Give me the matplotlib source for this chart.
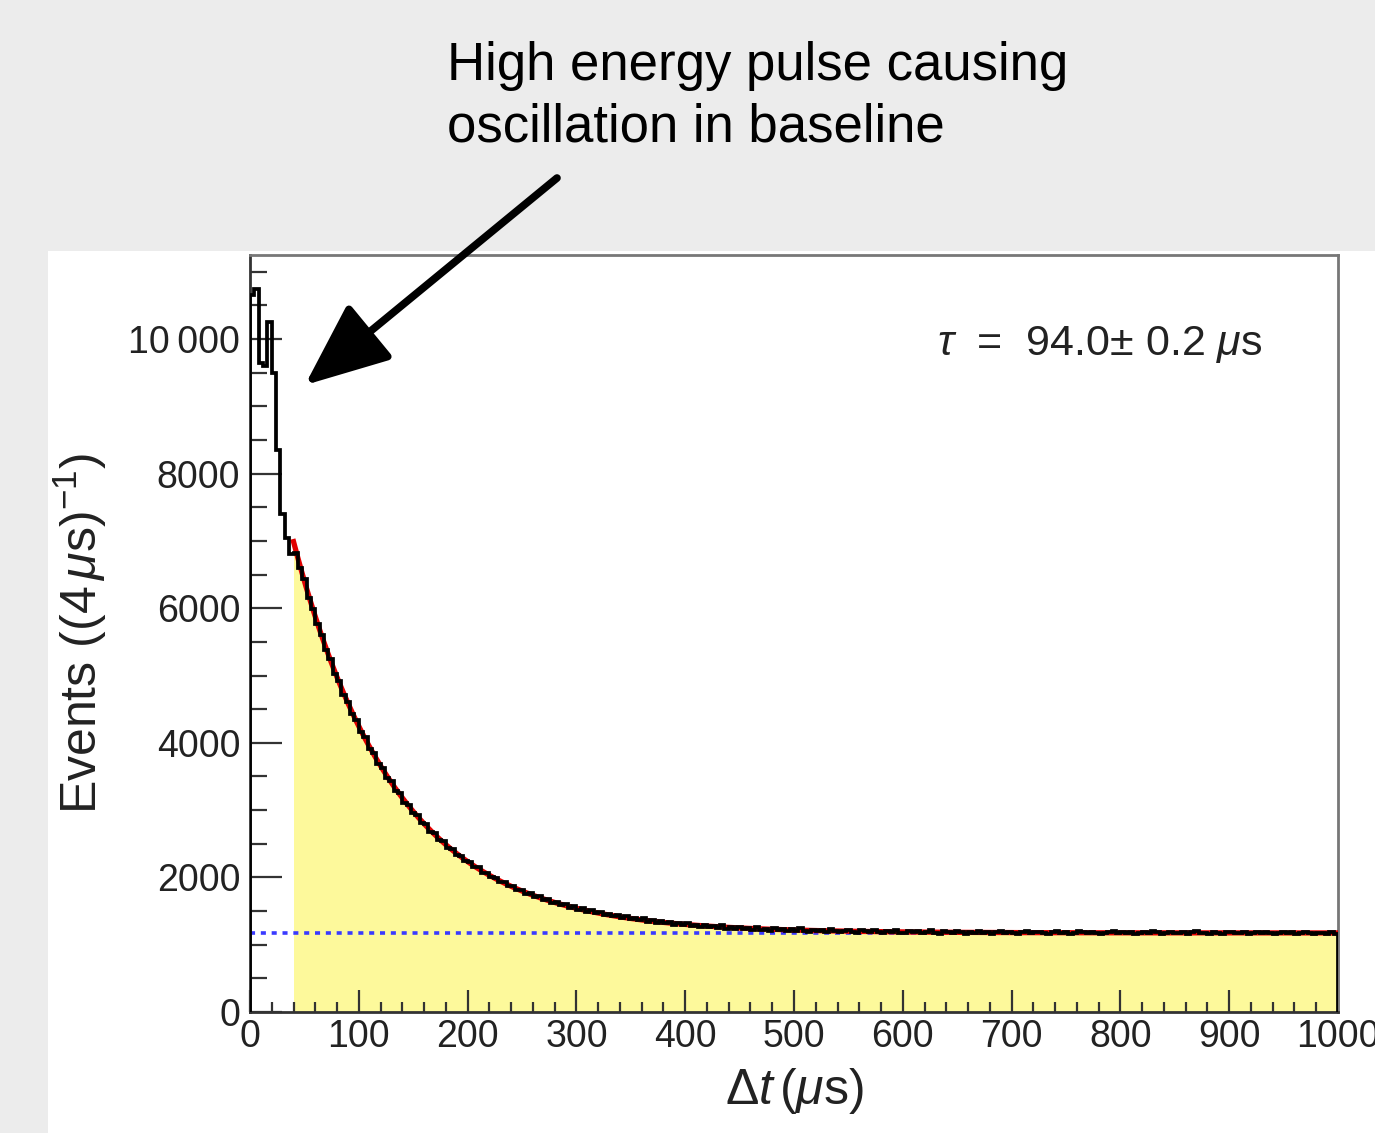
import numpy as np
import matplotlib
matplotlib.use("Agg")
import matplotlib.pyplot as plt
from matplotlib.patches import Rectangle, FancyArrowPatch
from matplotlib.transforms import IdentityTransform
from matplotlib.ticker import MultipleLocator, FuncFormatter

plt.rcParams['font.family'] = ['Liberation Sans', 'DejaVu Sans']
plt.rcParams['mathtext.fontset'] = 'custom'
plt.rcParams['mathtext.rm'] = 'Liberation Sans'
plt.rcParams['mathtext.it'] = 'Liberation Sans:italic'
plt.rcParams['mathtext.bf'] = 'Liberation Sans:bold'

# histogram: 4 us bins from 0 to 1000 us
bin_width = 4
bin_edges = np.arange(0, 1000 + bin_width, bin_width)
counts = [
    10650, 10750, 9650, 9600, 10250, 9500, 8350, 7400, 7050, 6800,
    6820, 6600, 6430, 6160, 5990, 5760, 5610, 5380, 5250, 5030,
    4920, 4710, 4610, 4430, 4340, 4160, 4080, 3910, 3850, 3690,
    3620, 3480, 3430, 3290, 3250, 3110, 3080, 2950, 2930, 2810,
    2790, 2670, 2660, 2550, 2540, 2430, 2420, 2330, 2320, 2240,
    2230, 2150, 2150, 2070, 2060, 2000, 1990, 1930, 1930, 1870,
    1870, 1810, 1810, 1760, 1770, 1710, 1720, 1660, 1680, 1620,
    1640, 1590, 1600, 1550, 1570, 1520, 1540, 1490, 1510, 1470,
    1480, 1440, 1460, 1420, 1440, 1400, 1420, 1380, 1400, 1360,
    1390, 1340, 1370, 1330, 1350, 1320, 1340, 1300, 1330, 1290,
    1320, 1280, 1300, 1270, 1300, 1260, 1280, 1250, 1290, 1240,
    1270, 1230, 1260, 1230, 1250, 1220, 1260, 1220, 1240, 1210,
    1250, 1215, 1240, 1205, 1230, 1200, 1245, 1210, 1195, 1225,
    1200, 1215, 1190, 1230, 1200, 1185, 1210, 1225, 1190, 1180,
    1215, 1200, 1185, 1220, 1195, 1175, 1205, 1190, 1215, 1180,
    1170, 1200, 1185, 1210, 1175, 1195, 1220, 1180, 1165, 1200,
    1190, 1175, 1205, 1185, 1160, 1195, 1180, 1210, 1175, 1190,
    1165, 1185, 1200, 1170, 1195, 1180, 1160, 1190, 1205, 1175,
    1185, 1195, 1170, 1160, 1185, 1200, 1175, 1190, 1165, 1180,
    1200, 1185, 1170, 1195, 1180, 1160, 1175, 1190, 1200, 1170,
    1185, 1175, 1195, 1165, 1180, 1190, 1170, 1200, 1185, 1160,
    1175, 1195, 1180, 1170, 1190, 1165, 1185, 1200, 1175, 1180,
    1165, 1190, 1175, 1160, 1185, 1195, 1170, 1180, 1190, 1165,
    1175, 1185, 1170, 1195, 1180, 1160, 1175, 1190, 1170, 1185,
    1165, 1180, 1190, 1170, 1160, 1180, 1175, 1165, 1185, 1160,
]

# fit parameters (exp decay + flat background)
tau = 94.0
amplitude = 8900
background = 1175
fit_start = 40

yellow = '#fdf99b'

fig = plt.figure(figsize=(13.75, 11.33), dpi=100)
fig.patch.set_facecolor('#ececec')
fig.patches.append(Rectangle((48 / 1375, 0), 1 - 48 / 1375, (1133 - 251) / 1133,
                             transform=fig.transFigure, facecolor='white',
                             edgecolor='none', zorder=-10))

ax = fig.add_axes([250 / 1375, 1 - 1012 / 1133, 1088 / 1375, 757 / 1133])
ax.set_facecolor('white')

counts = np.array(counts)
i0 = fit_start // bin_width
ax.stairs(counts[i0:], bin_edges[i0:], fill=True, color=yellow, zorder=1)
ax.plot([0, 1000], [background, background], color='#3a3aff', lw=2.6,
        ls=(0, (1.4, 1.6)), zorder=2)

t_fit = np.linspace(fit_start, 1000, 500)
ax.plot(t_fit, amplitude * np.exp(-t_fit / tau) + background, color='#e00000',
        lw=3.8, zorder=3)
ax.stairs(counts, bin_edges, color='black', lw=2.7, zorder=4)

ax.set_xlim(0, 1000)
ax.set_ylim(0, 11250)

ax.xaxis.set_major_locator(MultipleLocator(100))
ax.xaxis.set_minor_locator(MultipleLocator(20))
ax.yaxis.set_major_locator(MultipleLocator(2000))
ax.yaxis.set_minor_locator(MultipleLocator(500))
ax.yaxis.set_major_formatter(FuncFormatter(
    lambda v, _: f"{int(v):,}".replace(',', '\u2009') if v >= 10000 else f"{int(v)}"))

ax.tick_params(axis='both', which='both', direction='in', top=False, right=False,
               colors='#333333', labelcolor='#222222', width=1.6, labelsize=27)
ax.tick_params(axis='y', which='major', length=23, pad=7)
ax.tick_params(axis='y', which='minor', length=12)
ax.tick_params(axis='x', which='major', length=16, pad=5)
ax.tick_params(axis='x', which='minor', length=7)

for side in ['left', 'bottom']:
    ax.spines[side].set_color('#333333')
    ax.spines[side].set_linewidth(2)
for side in ['top', 'right']:
    ax.spines[side].set_color('#777777')
    ax.spines[side].set_linewidth(2)

ax.set_xlabel(r"$\Delta t\,(\mu$s)", fontsize=36, color='#222222', labelpad=8)
ax.set_ylabel(r"Events ((4$\,\mu$s)$^{-1}$)", fontsize=36, color='#222222', labelpad=14)

fig.text(1262 / 1375, 1 - 355 / 1133, r"$\tau$  =  94.0$\pm$ 0.2 $\mu$s", fontsize=31,
         color='#222222', ha='right', va='baseline')

fig.text(447 / 1375, 1 - 80 / 1133, "High energy pulse causing", fontsize=38,
         ha='left', va='baseline', color='black')
fig.text(447 / 1375, 1 - 141 / 1133, "oscillation in baseline", fontsize=38,
         ha='left', va='baseline', color='black')

fig.add_artist(FancyArrowPatch(
    (557, 1133 - 178), (305, 1133 - 385), transform=IdentityTransform(),
    arrowstyle='-|>,head_length=2.6,head_width=1.1', mutation_scale=20,
    lw=5.5, color='black', shrinkA=0, shrinkB=0))

fig.savefig('out.png', dpi=100, facecolor=fig.get_facecolor())
